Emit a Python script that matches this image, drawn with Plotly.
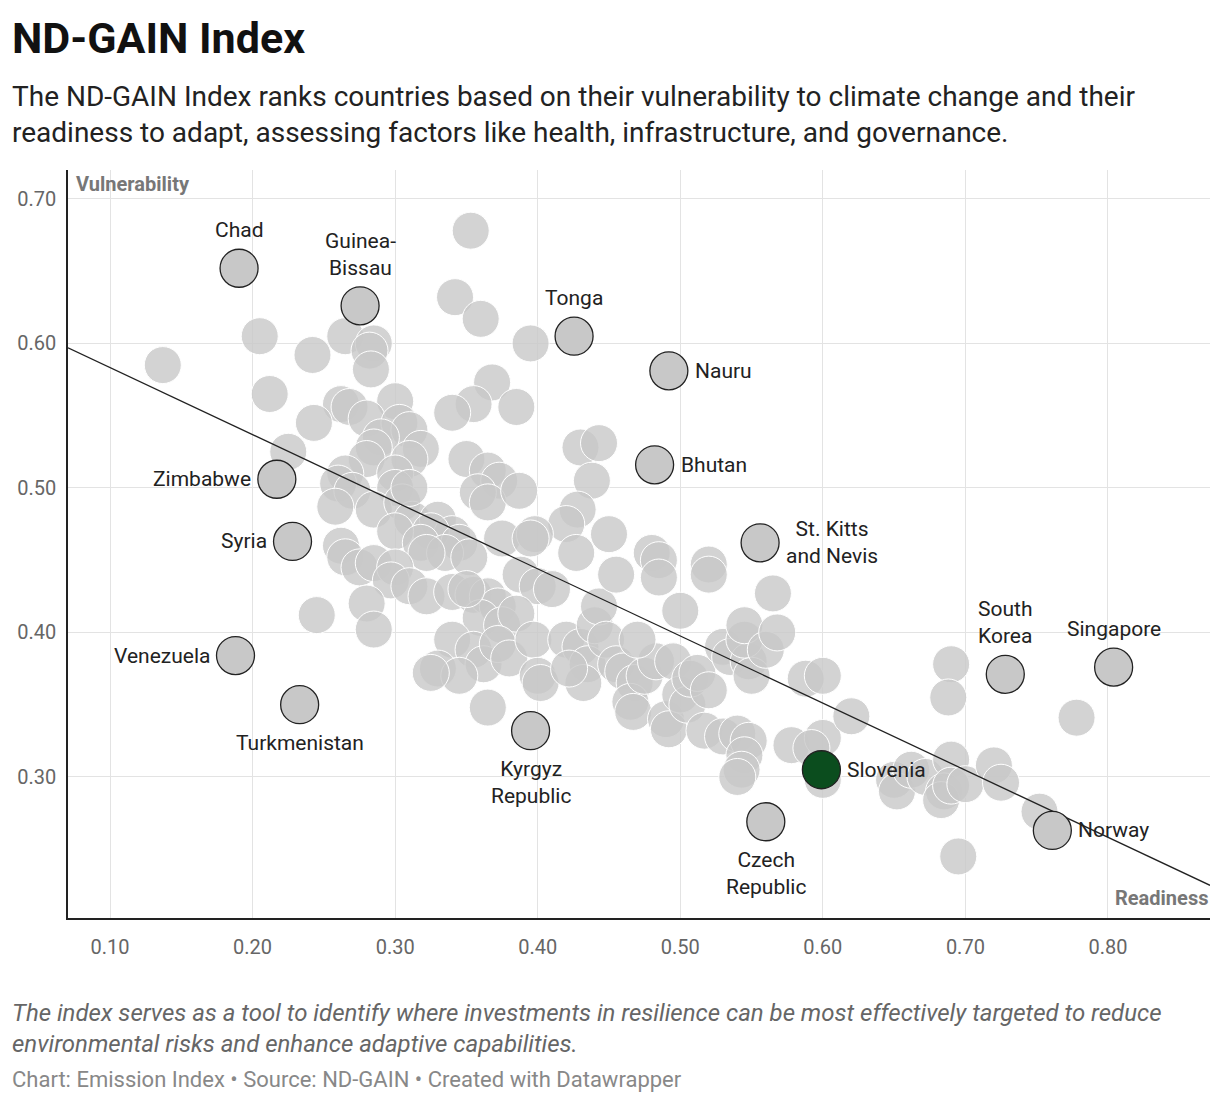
import plotly.graph_objects as go

# background countries: (readiness, vulnerability)
bg_readiness = [0.137,0.353,0.342,0.360,0.205,0.265,0.242,0.285,0.282,0.395,0.283,0.212,0.368,0.300,0.262,0.268,0.355,0.385,
    0.243,0.280,0.303,0.310,0.340,0.290,0.285,0.318,0.225,0.430,0.443,0.310,0.280,0.265,0.300,0.350,0.365,0.373,0.358,0.365,
    0.387,0.260,0.270,0.300,0.438,0.258,0.285,0.305,0.312,0.330,0.428,0.420,0.340,0.325,0.300,0.318,0.345,0.335,0.322,0.352,
    0.375,0.398,0.427,0.450,0.262,0.265,0.275,0.285,0.300,0.297,0.310,0.280,0.322,0.340,0.355,0.365,0.372,0.388,0.400,0.360,
    0.375,0.385,0.245,0.285,0.340,0.355,0.362,0.372,0.380,0.330,0.345,0.325,0.397,0.400,0.402,0.420,0.430,0.435,0.440,0.443,
    0.448,0.432,0.422,0.455,0.460,0.468,0.465,0.467,0.475,0.483,0.495,0.480,0.485,0.485,0.500,0.520,0.520,0.365,0.490,0.492,
    0.500,0.505,0.507,0.512,0.520,0.517,0.530,0.540,0.548,0.545,0.543,0.540,0.530,0.535,0.548,0.550,0.545,0.545,0.560,0.568,
    0.565,0.588,0.600,0.578,0.600,0.600,0.620,0.650,0.652,0.662,0.672,0.690,0.688,0.690,0.685,0.683,0.690,0.700,0.720,0.725,
    0.695,0.752,0.778,0.592,0.410,0.455,0.470,0.350,0.310,0.395]
bg_vulnerability = [0.585,0.678,0.632,0.617,0.605,0.605,0.592,0.600,0.595,0.600,0.582,0.565,0.573,0.560,0.558,0.556,0.558,0.556,
    0.545,0.548,0.545,0.540,0.552,0.535,0.528,0.527,0.525,0.528,0.531,0.520,0.520,0.510,0.510,0.520,0.512,0.505,0.497,0.490,
    0.498,0.503,0.498,0.500,0.505,0.487,0.485,0.490,0.478,0.478,0.485,0.475,0.468,0.470,0.470,0.462,0.462,0.455,0.455,0.452,
    0.465,0.468,0.455,0.468,0.460,0.452,0.445,0.448,0.445,0.436,0.432,0.420,0.425,0.428,0.426,0.425,0.418,0.440,0.432,0.410,
    0.405,0.413,0.412,0.402,0.395,0.388,0.378,0.392,0.382,0.375,0.370,0.372,0.395,0.370,0.365,0.395,0.390,0.378,0.405,0.418,
    0.395,0.365,0.375,0.378,0.373,0.365,0.352,0.345,0.370,0.380,0.380,0.455,0.450,0.438,0.415,0.447,0.440,0.348,0.340,0.333,
    0.357,0.350,0.368,0.372,0.360,0.332,0.328,0.330,0.325,0.315,0.305,0.300,0.390,0.383,0.380,0.370,0.395,0.405,0.388,0.400,
    0.427,0.368,0.370,0.322,0.327,0.298,0.342,0.298,0.290,0.305,0.300,0.378,0.355,0.312,0.290,0.284,0.294,0.295,0.308,0.296,
    0.245,0.276,0.341,0.320,0.430,0.440,0.395,0.430,0.500,0.465]

labels = ["Chad","Guinea-<br>Bissau","Tonga","Nauru","Bhutan","Zimbabwe","Syria","St. Kitts<br>and Nevis","Venezuela",
          "Turkmenistan","Kyrgyz<br>Republic","Czech<br>Republic","Norway","South<br>Korea","Singapore"]
lab_readiness = [0.1905,0.2754,0.4255,0.492,0.482,0.217,0.228,0.556,0.188,0.233,0.395,0.560,0.761,0.728,0.804]
lab_vulnerability = [0.652,0.626,0.605,0.581,0.516,0.506,0.463,0.462,0.384,0.350,0.332,0.269,0.263,0.371,0.376]
lab_pos = ["top","top","top","right","right","left","left","right","left","bottom","bottom","bottom","right","top","top"]

slovenia = (0.599, 0.305)
trend_x = [0.0705, 0.8716]
trend_y = [0.597, 0.225]

fig = go.Figure()
fig.add_trace(go.Scatter(x=bg_readiness, y=bg_vulnerability, mode="markers",
    marker=dict(size=37, color="rgba(200,200,200,0.8)", line=dict(color="white", width=1))))
fig.add_trace(go.Scatter(x=trend_x, y=trend_y, mode="lines", line=dict(color="#222", width=1.3)))
fig.add_trace(go.Scatter(x=lab_readiness, y=lab_vulnerability, mode="markers",
    marker=dict(size=38, color="#c8c8c8", line=dict(color="#222", width=1.3))))
fig.add_trace(go.Scatter(x=[slovenia[0]], y=[slovenia[1]], mode="markers",
    marker=dict(size=38, color="#0b4d1e", line=dict(color="#222", width=1.3))))

for t, x, y, p in zip(labels, lab_readiness, lab_vulnerability, lab_pos):
    off = {"top": (0, -24, "center", "bottom"), "bottom": (0, 24, "center", "top"),
           "left": (-24, 0, "right", "middle"), "right": (24, 0, "left", "middle")}[p]
    fig.add_annotation(x=x, y=y, text=t, showarrow=False, xshift=off[0], yshift=-off[1],
                       xanchor=off[2], yanchor=off[3], font=dict(size=21, color="#222"))
fig.add_annotation(x=slovenia[0], y=slovenia[1], text="Slovenia", showarrow=False, xshift=24,
                   xanchor="left", font=dict(size=21, color="#222"))
fig.add_annotation(x=0.0705, y=0.72, text="<b>Vulnerability</b>", showarrow=False, xanchor="left",
                   yanchor="top", xshift=6, font=dict(size=20, color="#777"))
fig.add_annotation(x=0.8716, y=0.2024, text="<b>Readiness</b>", showarrow=False, xanchor="right",
                   yanchor="bottom", yshift=6, font=dict(size=20, color="#777"))

fig.update_layout(
    width=1212, height=1094, showlegend=False, plot_bgcolor="white", paper_bgcolor="white",
    font=dict(family="Roboto", color="#222"),
    margin=dict(l=60, r=10, t=162, b=184),
)
fig.add_annotation(xref="paper", yref="paper", x=-0.0508, y=1.212, xanchor="left", yanchor="top",
    showarrow=False, font=dict(size=43, color="#111"), text="<b>ND-GAIN Index</b>")
fig.add_annotation(xref="paper", yref="paper", x=-0.0508, y=1.123, xanchor="left", yanchor="top", align="left",
    showarrow=False, font=dict(size=28, color="#222"),
    text="The ND-GAIN Index ranks countries based on their vulnerability to climate change and their<br>readiness to adapt, assessing factors like health, infrastructure, and governance.")
fig.add_annotation(xref="paper", yref="paper", x=-0.0508, y=-0.105, xanchor="left", yanchor="top", align="left",
    showarrow=False, font=dict(size=24, color="#666"),
    text="<i>The index serves as a tool to identify where investments in resilience can be most effectively targeted to reduce<br>environmental risks and enhance adaptive capabilities.</i>")
fig.add_annotation(xref="paper", yref="paper", x=-0.0508, y=-0.197, xanchor="left", yanchor="top",
    showarrow=False, font=dict(size=22, color="#888"),
    text="Chart: Emission Index • Source: ND-GAIN • Created with Datawrapper")

fig.update_xaxes(range=[0.0705, 0.8716], tickvals=[0.1,0.2,0.3,0.4,0.5,0.6,0.7,0.8], tickformat=".2f",
                 showgrid=True, gridcolor="#e3e3e3", zeroline=False, showline=True, linecolor="#222",
                 linewidth=1.5, tickfont=dict(size=20, color="#666"), ticks="", automargin=False,
                 ticklabelstandoff=10)
fig.update_yaxes(range=[0.2024, 0.72], tickvals=[0.3,0.4,0.5,0.6,0.7], tickformat=".2f",
                 showgrid=True, gridcolor="#e3e3e3", zeroline=False, showline=True, linecolor="#222",
                 linewidth=1.5, tickfont=dict(size=20, color="#666"), ticks="", automargin=False,
                 ticklabelstandoff=6)

fig.write_html("out.html")
